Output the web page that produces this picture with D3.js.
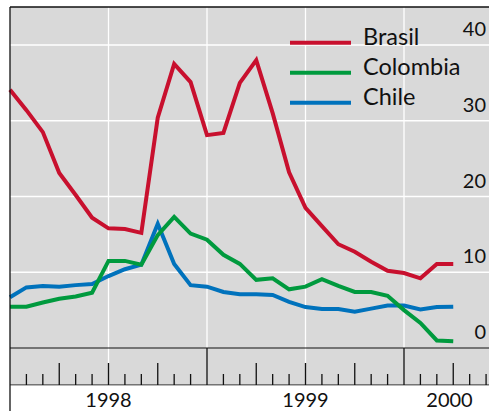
<!DOCTYPE html>
<html>
<head>
<meta charset="utf-8">
<script src="https://cdn.jsdelivr.net/npm/d3@7"></script>
<style>
    body { margin: 0; background: #fff; }
    svg { display: block; font-family: Lato, "Open Sans", sans-serif; }
</style>
</head>
<body>
<svg id="chart"></svg>
<script>
// Monthly values, Jan 1998 .. Apr 2000 (month index 0 = Jan 1998)
const months = d3.range(0, 28);
const brasil = [34.1, 31.4, 28.5, 23.1, 20.2, 17.2, 15.8, 15.7, 15.2, 30.4, 37.5, 35.1,
                28.1, 28.4, 35.0, 38.0, 31.0, 23.2, 18.5, 16.1, 13.7, 12.7, 11.4, 10.2,
                9.9, 9.2, 11.1, 11.1];
const colombia = [5.45, 5.45, 6.0, 6.5, 6.8, 7.3, 11.5, 11.5, 11.0, 14.9, 17.3, 15.1,
                  14.3, 12.3, 11.1, 9.0, 9.2, 7.75, 8.1, 9.1, 8.2, 7.4, 7.4, 6.9,
                  5.0, 3.3, 1.0, 0.9];
const chile = [6.7, 8.0, 8.2, 8.1, 8.3, 8.45, 9.5, 10.4, 11.0, 16.4, 11.1, 8.3,
               8.1, 7.4, 7.1, 7.1, 7.0, 6.1, 5.4, 5.15, 5.15, 4.8, 5.2, 5.6,
               5.6, 5.1, 5.4, 5.45];

const seriesNames = ['Brasil', 'Colombia', 'Chile'];
const seriesValues = [brasil, colombia, chile];
const seriesColors = ['#c8102e', '#009a3e', '#0072bc'];

const yTicks = [0, 10, 20, 30, 40];
const years = ['1998', '1999', '2000'];

const width = 489, height = 411;
const leftX = 10, topY = 7;
const plotBottom = 348, axisBottom = 385;
const grey = '#d9d9d9';

const svg = d3.select('#chart')
    .attr('width', width)
    .attr('height', height);

// Scales: month index -> x, value -> y
const x = d3.scaleLinear().domain([0, 24]).range([leftX, 404]);
const y = d3.scaleLinear().domain([0, 40]).range([plotBottom, 45]);

// Grey panel (plot + tick band)
svg.append('rect')
    .attr('x', leftX).attr('y', topY)
    .attr('width', width - leftX).attr('height', axisBottom - topY)
    .attr('fill', grey);

// Horizontal gridlines
svg.append('g')
    .selectAll('line')
    .data(yTicks.filter(d => d > 0))
    .join('line')
    .attr('x1', leftX).attr('x2', width)
    .attr('y1', d => y(d)).attr('y2', d => y(d))
    .attr('stroke', '#fff')
    .attr('stroke-width', 1.3);

// Vertical gridlines every six months, running down to the tall tick
const halfYears = d3.range(6, 31, 6);
svg.append('g')
    .selectAll('line')
    .data(halfYears)
    .join('line')
    .attr('x1', d => x(d)).attr('x2', d => x(d))
    .attr('y1', topY).attr('y2', d => d % 12 === 0 ? plotBottom : 363)
    .attr('stroke', '#fff')
    .attr('stroke-width', 1.3);

// Right-hand value labels
svg.append('g')
    .selectAll('text')
    .data(yTicks)
    .join('text')
    .attr('x', 486)
    .attr('y', d => y(d) - 9)
    .attr('text-anchor', 'end')
    .attr('font-size', 20)
    .attr('fill', '#111')
    .text(d => d);

// Series lines: drawn back to front so Brasil sits on top
const line = d3.line()
    .x((d, i) => x(months[i]))
    .y(d => y(d));

const order = [2, 1, 0];
svg.append('g')
    .selectAll('path')
    .data(order)
    .join('path')
    .attr('d', i => line(seriesValues[i]))
    .attr('fill', 'none')
    .attr('stroke', i => seriesColors[i])
    .attr('stroke-width', 4)
    .attr('stroke-linejoin', 'miter');

// Legend
const legend = svg.append('g')
    .selectAll('g')
    .data(seriesNames)
    .join('g')
    .attr('transform', (d, i) => `translate(290,${42.7 + i * 30})`);

legend.append('line')
    .attr('x1', 0).attr('x2', 61)
    .attr('stroke', (d, i) => seriesColors[i])
    .attr('stroke-width', 4);

legend.append('text')
    .attr('x', 73)
    .attr('y', 2.5)
    .attr('font-size', 23.5)
    .attr('fill', '#111')
    .text(d => d);

// Month tick band
const axisG = svg.append('g');
axisG.append('line')
    .attr('x1', leftX).attr('x2', width)
    .attr('y1', plotBottom).attr('y2', plotBottom)
    .attr('stroke', '#111').attr('stroke-width', 1.2);
axisG.append('line')
    .attr('x1', leftX).attr('x2', width)
    .attr('y1', axisBottom).attr('y2', axisBottom)
    .attr('stroke', '#111').attr('stroke-width', 1.2);

const tickMonths = d3.range(1, 30);
axisG.selectAll('line.tick')
    .data(tickMonths)
    .join('line')
    .attr('class', 'tick')
    .attr('x1', d => x(d)).attr('x2', d => x(d))
    .attr('y1', d => d % 12 === 0 ? plotBottom : (d % 3 === 0 ? 363 : 374))
    .attr('y2', axisBottom)
    .attr('stroke', '#111')
    .attr('stroke-width', 1.3);

// White strip under the band with year labels centred on the visible part of each year
svg.append('rect')
    .attr('x', leftX).attr('y', axisBottom + 0.6)
    .attr('width', width - leftX).attr('height', height - axisBottom)
    .attr('fill', '#fff');

svg.append('g')
    .selectAll('text')
    .data(years)
    .join('text')
    .attr('x', (d, i) => {
        const a = Math.max(x(i * 12), leftX);
        const b = Math.min(x(i * 12 + 12), width + 6);
        return (a + b) / 2;
    })
    .attr('y', 407)
    .attr('text-anchor', 'middle')
    .attr('font-size', 20)
    .attr('fill', '#111')
    .text(d => d);

// Frame: top rule and left rule
svg.append('line')
    .attr('x1', leftX).attr('x2', width)
    .attr('y1', topY).attr('y2', topY)
    .attr('stroke', '#111').attr('stroke-width', 1.5);
svg.append('line')
    .attr('x1', leftX).attr('x2', leftX)
    .attr('y1', topY).attr('y2', height)
    .attr('stroke', '#111').attr('stroke-width', 1.3);
</script>
</body>
</html>
